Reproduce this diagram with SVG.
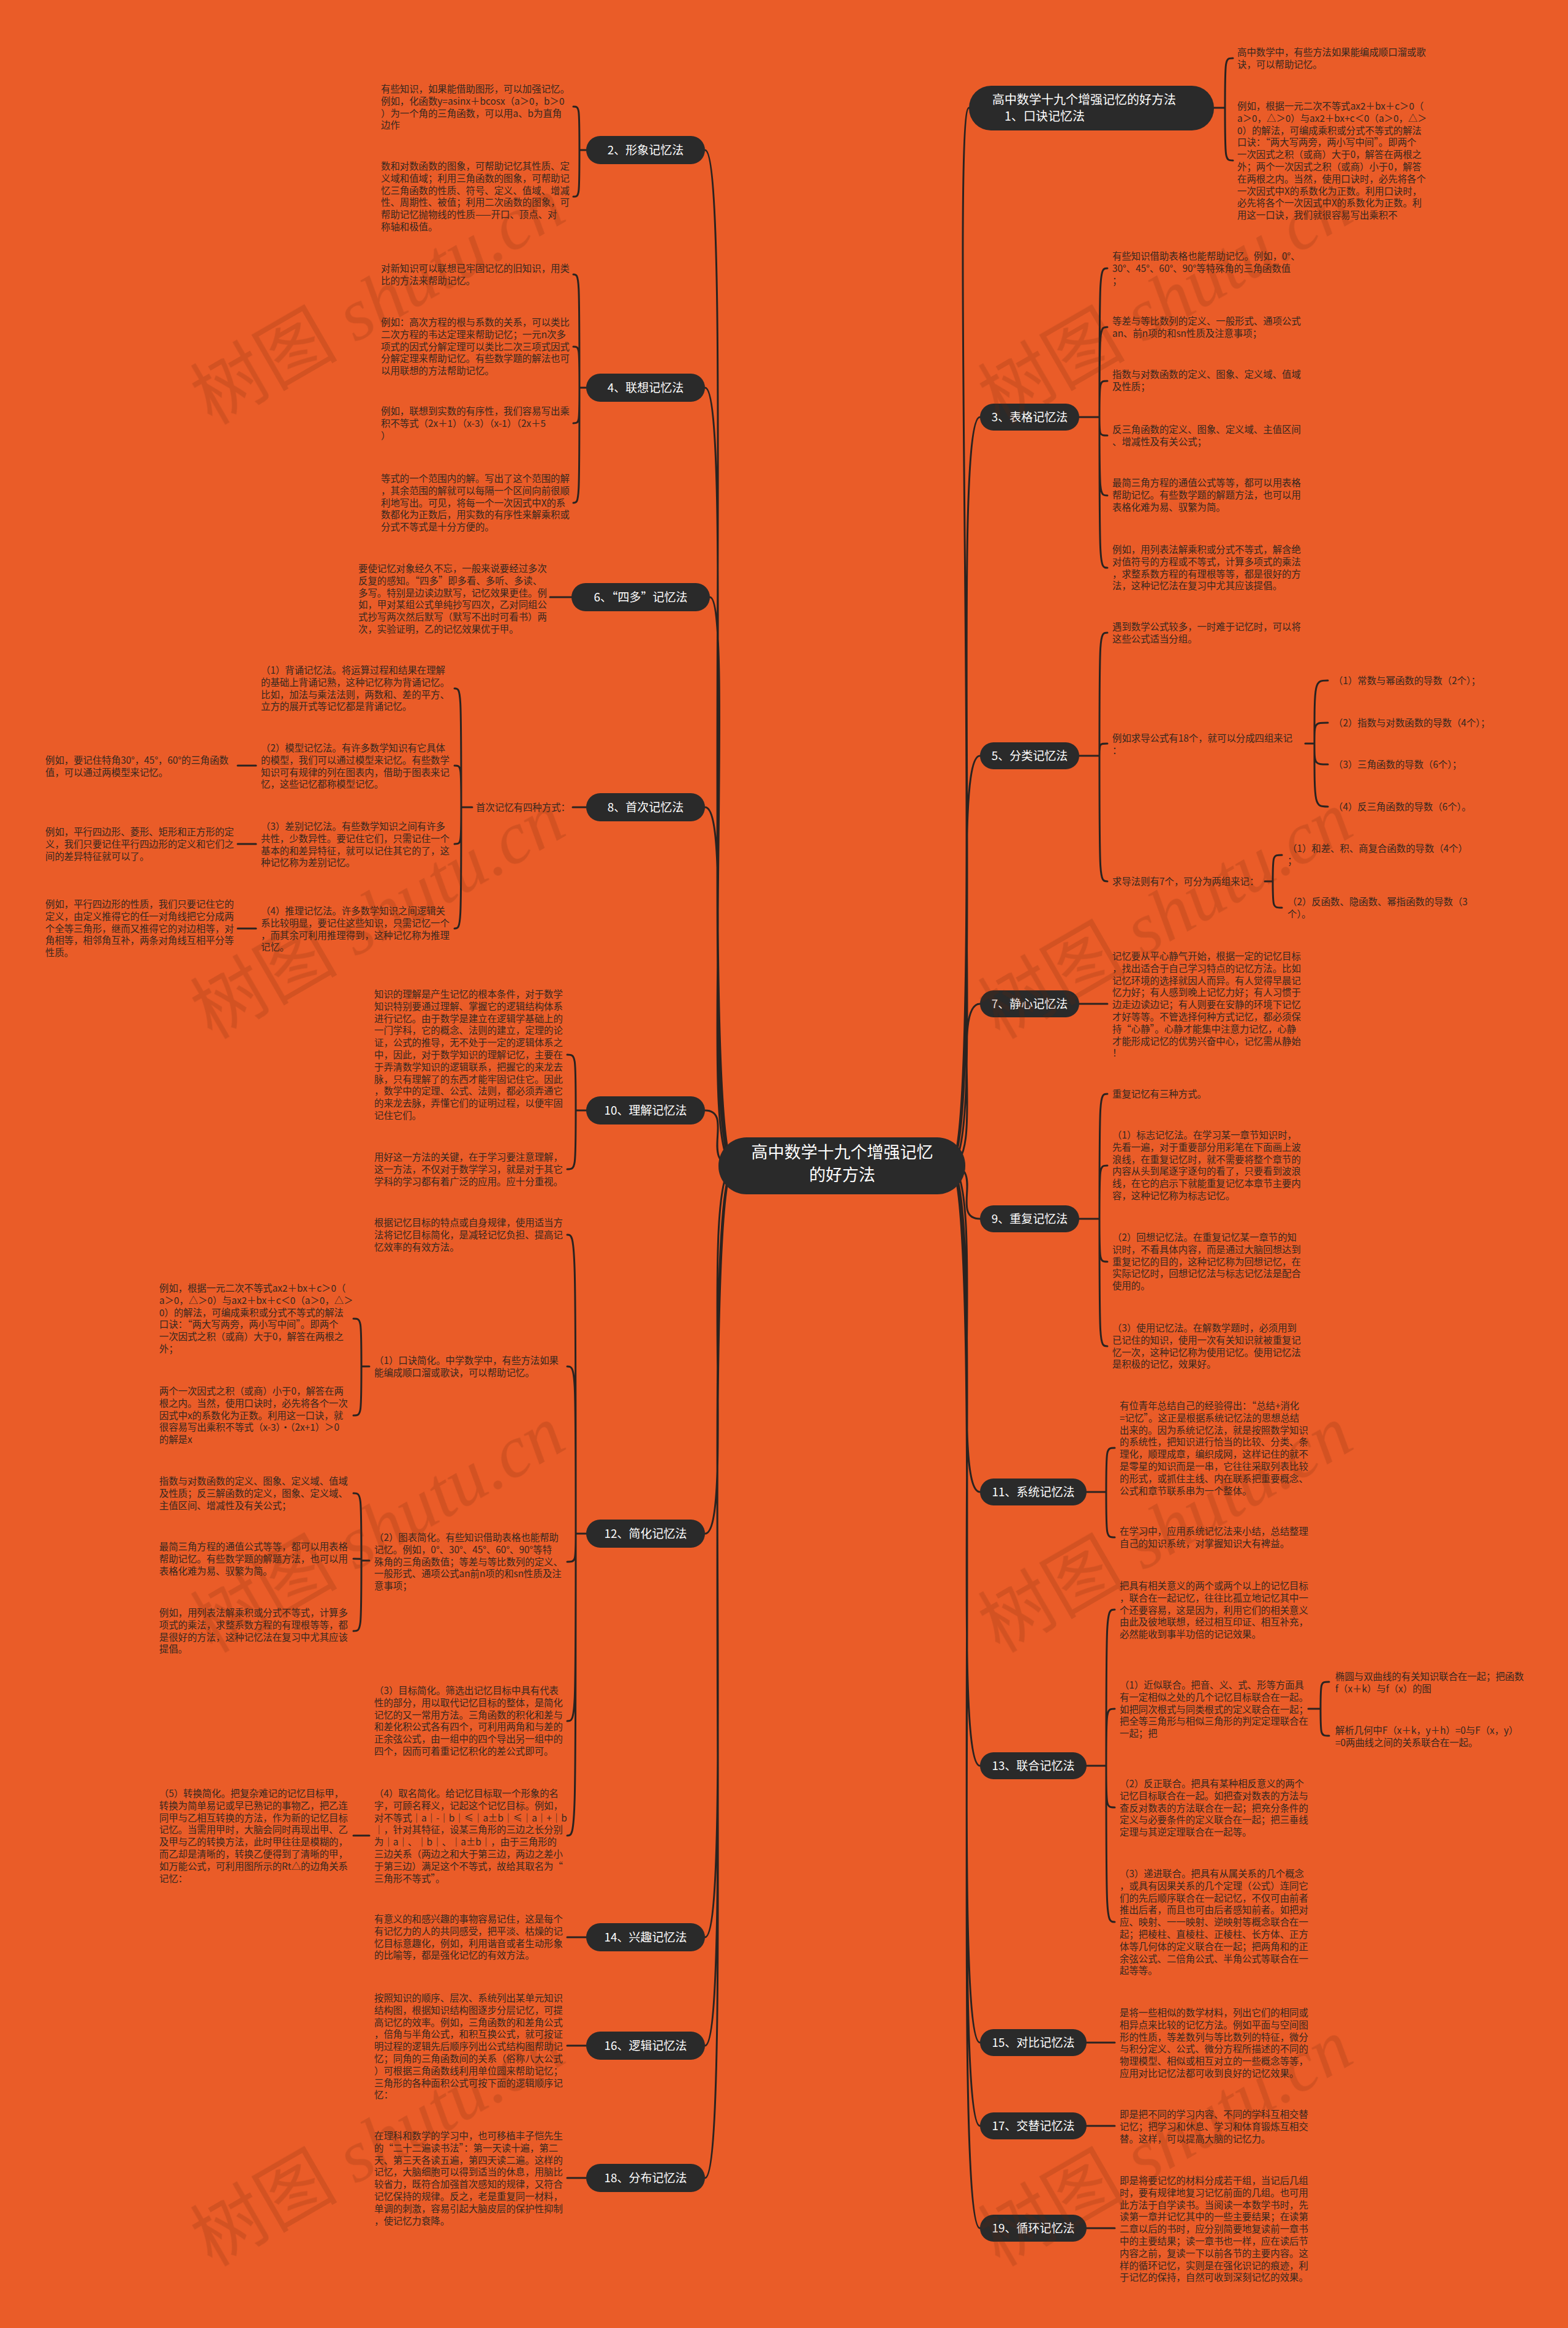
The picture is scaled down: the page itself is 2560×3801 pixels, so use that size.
<svg xmlns="http://www.w3.org/2000/svg" width="2560" height="3801" viewBox="0 0 2560 3801">
<style>
.bg{fill:#EA5C28}
.t{font-family:"Noto Sans CJK SC","Liberation Sans",sans-serif;font-size:15.4px;fill:#35281f}
.lb{font-family:"Noto Sans CJK SC","Liberation Sans",sans-serif;font-size:19px;fill:#ffffff;text-anchor:middle}
.box{fill:#2a2a2a}
.c{fill:none;stroke:#2a2320;stroke-width:3;stroke-linecap:round}
.wm{font-size:120px;fill:#6b2a10;opacity:.18}
.wm1{font-family:"Noto Sans CJK SC",serif}
.wm2{font-family:"Liberation Serif",serif;font-style:italic}
</style>
<rect class="bg" x="0" y="0" width="2560" height="3801"/>

<g id="connectors">
<path class="c" d="M1200,1903 C1140,1903 1200,245 1151,245 M1200,1903 C1140,1903 1200,633 1151,633 M1200,1903 C1140,1903 1200,975 1159,975 M1200,1903 C1140,1903 1200,1318 1151,1318 M1200,1903 C1140,1903 1200,1813 1151,1813 M1200,1903 C1140,1903 1200,2504 1151,2504 M1200,1903 C1140,1903 1200,3163 1151,3163 M1200,1903 C1140,1903 1200,3340 1151,3340 M1200,1903 C1140,1903 1200,3556 1151,3556"/>
<path class="c" d="M1550,1903 C1610,1903 1550,176 1582,176 M1550,1903 C1610,1903 1550,681 1600,681 M1550,1903 C1610,1903 1550,1234 1600,1234 M1550,1903 C1610,1903 1550,1639 1600,1639 M1550,1903 C1610,1903 1550,1990 1600,1990 M1550,1903 C1610,1903 1550,2436 1600,2436 M1550,1903 C1610,1903 1550,2883 1600,2883 M1550,1903 C1610,1903 1550,3335 1600,3335 M1550,1903 C1610,1903 1550,3471 1600,3471 M1550,1903 C1610,1903 1550,3638 1600,3638"/>
<!-- right sub braces -->
<path class="c" d="M1982,176 H2000 M2000,176 C2000,95 2000,95 2013,95 M2000,176 C2000,262 2000,262 2013,262"/>
<path class="c" d="M1760,681 H1795 M1795,681 C1795,438 1795,438 1808,438 M1795,681 C1795,534 1795,534 1808,534 M1795,681 C1795,622 1795,622 1808,622 M1795,681 C1795,711 1795,711 1808,711 M1795,681 C1795,809 1795,809 1808,809 M1795,681 C1795,927 1795,927 1808,927"/>
<path class="c" d="M1760,1234 H1795 M1795,1234 C1795,1033 1795,1033 1808,1033 M1795,1234 C1795,1214 1795,1214 1808,1214 M1795,1234 C1795,1439 1795,1439 1808,1439"/>
<path class="c" d="M2131,1214 H2146 M2146,1214 C2146,1111 2146,1111 2168,1111 M2146,1214 C2146,1180 2146,1180 2168,1180 M2146,1214 C2146,1248 2146,1248 2168,1248 M2146,1214 C2146,1317 2146,1317 2168,1317"/>
<path class="c" d="M2065,1439 H2078 M2078,1439 C2078,1396 2078,1396 2093,1396 M2078,1439 C2078,1482 2078,1482 2093,1482"/>
<path class="c" d="M1760,1639 H1808"/>
<path class="c" d="M1760,1990 H1795 M1795,1990 C1795,1786 1795,1786 1808,1786 M1795,1990 C1795,1903 1795,1903 1808,1903 M1795,1990 C1795,2060 1795,2060 1808,2060 M1795,1990 C1795,2198 1795,2198 1808,2198"/>
<path class="c" d="M1772,2436 H1806 M1806,2436 C1806,2364 1806,2364 1820,2364 M1806,2436 C1806,2510 1806,2510 1820,2510"/>
<path class="c" d="M1772,2883 H1806 M1806,2883 C1806,2628 1806,2628 1820,2628 M1806,2883 C1806,2790 1806,2790 1820,2790 M1806,2883 C1806,2951 1806,2951 1820,2951 M1806,2883 C1806,3138 1806,3138 1820,3138"/>
<path class="c" d="M2136,2790 H2156 M2156,2790 C2156,2746 2156,2746 2170,2746 M2156,2790 C2156,2834 2156,2834 2170,2834"/>
<path class="c" d="M1772,3335 H1820 M1772,3471 H1820 M1772,3638 H1820"/>
<!-- left sub braces -->
<path class="c" d="M957,245 H946 M946,245 C946,174 946,174 936,174 M946,245 C946,321 946,321 936,321"/>
<path class="c" d="M957,633 H946 M946,633 C946,448 946,448 936,448 M946,633 C946,566 946,566 936,566 M946,633 C946,691 946,691 936,691 M946,633 C946,821 946,821 936,821"/>
<path class="c" d="M933,975 H898"/>
<path class="c" d="M957,1318 H935"/>
<path class="c" d="M771,1318 H753 M753,1318 C753,1124 753,1124 742,1124 M753,1318 C753,1250 753,1250 742,1250 M753,1318 C753,1378 753,1378 742,1378 M753,1318 C753,1516 753,1516 742,1516"/>
<path class="c" d="M418,1250 H388 M418,1378 H388 M418,1516 H388"/>
<path class="c" d="M957,1813 H940 M940,1813 C940,1722 940,1722 926,1722 M940,1813 C940,1909 940,1909 926,1909"/>
<path class="c" d="M957,2504 H940 M940,2504 C940,2016 940,2016 926,2016 M940,2504 C940,2231 940,2231 926,2231 M940,2504 C940,2550 940,2550 926,2550 M940,2504 C940,2810 940,2810 926,2810 M940,2504 C940,2997 940,2997 926,2997"/>
<path class="c" d="M603,2231 H590 M590,2231 C590,2153 590,2153 577,2153 M590,2231 C590,2311 590,2311 577,2311"/>
<path class="c" d="M603,2548 H590 M590,2548 C590,2438 590,2438 577,2438 M590,2548 C590,2545 590,2545 577,2545 M590,2548 C590,2663 590,2663 577,2663"/>
<path class="c" d="M603,2997 H577"/>
<path class="c" d="M957,3163 H926 M957,3340 H926 M957,3556 H926"/>
</g>

<g id="center">
<rect class="box" x="1173" y="1857" width="403" height="93" rx="46"/>
<text class="lb" style="font-size:27px"><tspan x="1375" y="1891">高中数学十九个增强记忆</tspan><tspan x="1375" y="1928">的好方法</tspan></text>
</g>

<!-- right main nodes -->
<g id="n1">
<rect class="box" x="1582" y="140" width="400" height="73" rx="36"/>
<text class="lb" style="text-anchor:start;font-size:20px"><tspan x="1620" y="170">高中数学十九个增强记忆的好方法</tspan><tspan x="1640" y="197">1、口诀记忆法</tspan></text>
</g>
<g id="n3"><rect class="box" x="1600" y="659" width="162" height="44" rx="22"/><text class="lb" x="1681" y="688">3、表格记忆法</text></g>
<g id="n5"><rect class="box" x="1600" y="1212" width="162" height="44" rx="22"/><text class="lb" x="1681" y="1241">5、分类记忆法</text></g>
<g id="n7"><rect class="box" x="1600" y="1617" width="162" height="44" rx="22"/><text class="lb" x="1681" y="1646">7、静心记忆法</text></g>
<g id="n9"><rect class="box" x="1600" y="1968" width="162" height="44" rx="22"/><text class="lb" x="1681" y="1997">9、重复记忆法</text></g>
<g id="n11"><rect class="box" x="1600" y="2414" width="174" height="44" rx="22"/><text class="lb" x="1687" y="2443">11、系统记忆法</text></g>
<g id="n13"><rect class="box" x="1600" y="2861" width="174" height="44" rx="22"/><text class="lb" x="1687" y="2890">13、联合记忆法</text></g>
<g id="n15"><rect class="box" x="1600" y="3313" width="174" height="44" rx="22"/><text class="lb" x="1687" y="3342">15、对比记忆法</text></g>
<g id="n17"><rect class="box" x="1600" y="3449" width="174" height="44" rx="22"/><text class="lb" x="1687" y="3478">17、交替记忆法</text></g>
<g id="n19"><rect class="box" x="1600" y="3616" width="174" height="44" rx="22"/><text class="lb" x="1687" y="3645">19、循环记忆法</text></g>

<!-- left main nodes -->
<g id="n2"><rect class="box" x="957" y="222" width="194" height="46" rx="23"/><text class="lb" x="1054" y="252">2、形象记忆法</text></g>
<g id="n4"><rect class="box" x="957" y="610" width="194" height="46" rx="23"/><text class="lb" x="1054" y="640">4、联想记忆法</text></g>
<g id="n6"><rect class="box" x="933" y="952" width="226" height="46" rx="23"/><text class="lb" x="1046" y="982">6、“四多”记忆法</text></g>
<g id="n8"><rect class="box" x="957" y="1295" width="194" height="46" rx="23"/><text class="lb" x="1054" y="1325">8、首次记忆法</text></g>
<g id="n10"><rect class="box" x="957" y="1790" width="194" height="46" rx="23"/><text class="lb" x="1054" y="1820">10、理解记忆法</text></g>
<g id="n12"><rect class="box" x="957" y="2481" width="194" height="46" rx="23"/><text class="lb" x="1054" y="2511">12、简化记忆法</text></g>
<g id="n14"><rect class="box" x="957" y="3140" width="194" height="46" rx="23"/><text class="lb" x="1054" y="3170">14、兴趣记忆法</text></g>
<g id="n16"><rect class="box" x="957" y="3317" width="194" height="46" rx="23"/><text class="lb" x="1054" y="3347">16、逻辑记忆法</text></g>
<g id="n18"><rect class="box" x="957" y="3533" width="194" height="46" rx="23"/><text class="lb" x="1054" y="3563">18、分布记忆法</text></g>

<!-- right texts -->
<g id="n1a"><text class="t"><tspan x="2020" y="91">高中数学中，有些方法如果能编成顺口溜或歌</tspan><tspan x="2020" y="110.8">诀，可以帮助记忆。</tspan></text></g>
<g id="n1b"><text class="t"><tspan x="2020" y="179">例如，根据一元二次不等式ax2＋bx＋c＞0（</tspan><tspan x="2020" y="198.8">a＞0，△＞0）与ax2＋bx+c＜0（a＞0，△＞</tspan><tspan x="2020" y="218.6">0）的解法，可编成乘积或分式不等式的解法</tspan><tspan x="2020" y="238.4">口诀：“两大写两旁，两小写中间”。即两个</tspan><tspan x="2020" y="258.2">一次因式之积（或商）大于0，解答在两根之</tspan><tspan x="2020" y="278">外；两个一次因式之积（或商）小于0，解答</tspan><tspan x="2020" y="297.8">在两根之内。当然，使用口诀时，必先将各个</tspan><tspan x="2020" y="317.6">一次因式中X的系数化为正数。利用口诀时，</tspan><tspan x="2020" y="337.4">必先将各个一次因式中X的系数化为正数。利</tspan><tspan x="2020" y="357.2">用这一口诀，我们就很容易写出乘积不</tspan></text></g>

<g id="n3a"><text class="t"><tspan x="1816" y="424">有些知识借助表格也能帮助记忆。例如，0°、</tspan><tspan x="1816" y="443.8">30°、45°、60°、90°等特殊角的三角函数值</tspan><tspan x="1816" y="463.6">；</tspan></text></g>
<g id="n3b"><text class="t"><tspan x="1816" y="530">等差与等比数列的定义、一般形式、通项公式</tspan><tspan x="1816" y="549.8">an、前n项的和sn性质及注意事项；</tspan></text></g>
<g id="n3c"><text class="t"><tspan x="1816" y="617">指数与对数函数的定义、图象、定义域、值域</tspan><tspan x="1816" y="636.8">及性质；</tspan></text></g>
<g id="n3d"><text class="t"><tspan x="1816" y="707">反三角函数的定义、图象、定义域、主值区间</tspan><tspan x="1816" y="726.8">、增减性及有关公式；</tspan></text></g>
<g id="n3e"><text class="t"><tspan x="1816" y="794">最简三角方程的通值公式等等，都可以用表格</tspan><tspan x="1816" y="813.8">帮助记忆。有些数学题的解题方法，也可以用</tspan><tspan x="1816" y="833.6">表格化难为易、驭繁为简。</tspan></text></g>
<g id="n3f"><text class="t"><tspan x="1816" y="903">例如，用列表法解乘积或分式不等式，解含绝</tspan><tspan x="1816" y="922.8">对值符号的方程或不等式，计算多项式的乘法</tspan><tspan x="1816" y="942.6">，求整系数方程的有理根等等，都是很好的方</tspan><tspan x="1816" y="962.4">法，这种记忆法在复习中尤其应该提倡。</tspan></text></g>

<g id="n5a"><text class="t"><tspan x="1816" y="1029">遇到数学公式较多，一时难于记忆时，可以将</tspan><tspan x="1816" y="1048.8">这些公式适当分组。</tspan></text></g>
<g id="n5b"><text class="t"><tspan x="1816" y="1211">例如求导公式有18个，就可以分成四组来记</tspan><tspan x="1816" y="1230.8">：</tspan></text></g>
<g id="n5b1"><text class="t" x="2177" y="1117">（1）常数与幂函数的导数（2个）；</text></g>
<g id="n5b2"><text class="t" x="2177" y="1186">（2）指数与对数函数的导数（4个）；</text></g>
<g id="n5b3"><text class="t" x="2177" y="1254">（3）三角函数的导数（6个）；</text></g>
<g id="n5b4"><text class="t" x="2177" y="1323">（4）反三角函数的导数（6个）。</text></g>
<g id="n5c"><text class="t" x="1816" y="1445">求导法则有7个，可分为两组来记：</text></g>
<g id="n5c1"><text class="t"><tspan x="2102" y="1391">（1）和差、积、商复合函数的导数（4个）</tspan><tspan x="2102" y="1410.8">；</tspan></text></g>
<g id="n5c2"><text class="t"><tspan x="2102" y="1478">（2）反函数、隐函数、幂指函数的导数（3</tspan><tspan x="2102" y="1497.8">个）。</tspan></text></g>

<g id="n7a"><text class="t"><tspan x="1816" y="1567">记忆要从平心静气开始，根据一定的记忆目标</tspan><tspan x="1816" y="1586.8">，找出适合于自己学习特点的记忆方法。比如</tspan><tspan x="1816" y="1606.6">记忆环境的选择就因人而异。有人觉得早晨记</tspan><tspan x="1816" y="1626.4">忆力好；有人感到晚上记忆力好；有人习惯于</tspan><tspan x="1816" y="1646.2">边走边读边记；有人则要在安静的环境下记忆</tspan><tspan x="1816" y="1666">才好等等。不管选择何种方式记忆，都必须保</tspan><tspan x="1816" y="1685.8">持“心静”。心静才能集中注意力记忆，心静</tspan><tspan x="1816" y="1705.6">才能形成记忆的优势兴奋中心，记忆需从静始</tspan><tspan x="1816" y="1725.4">！</tspan></text></g>

<g id="n9a"><text class="t" x="1816" y="1792">重复记忆有三种方式。</text></g>
<g id="n9b"><text class="t"><tspan x="1816" y="1859">（1）标志记忆法。在学习某一章节知识时，</tspan><tspan x="1816" y="1878.8">先看一遍，对于重要部分用彩笔在下面画上波</tspan><tspan x="1816" y="1898.6">浪线，在重复记忆时，就不需要将整个章节的</tspan><tspan x="1816" y="1918.4">内容从头到尾逐字逐句的看了，只要看到波浪</tspan><tspan x="1816" y="1938.2">线，在它的启示下就能重复记忆本章节主要内</tspan><tspan x="1816" y="1958">容，这种记忆称为标志记忆。</tspan></text></g>
<g id="n9c"><text class="t"><tspan x="1816" y="2026">（2）回想记忆法。在重复记忆某一章节的知</tspan><tspan x="1816" y="2045.8">识时，不看具体内容，而是通过大脑回想达到</tspan><tspan x="1816" y="2065.6">重复记忆的目的，这种记忆称为回想记忆，在</tspan><tspan x="1816" y="2085.4">实际记忆时，回想记忆法与标志记忆法是配合</tspan><tspan x="1816" y="2105.2">使用的。</tspan></text></g>
<g id="n9d"><text class="t"><tspan x="1816" y="2174">（3）使用记忆法。在解数学题时，必须用到</tspan><tspan x="1816" y="2193.8">已记住的知识，使用一次有关知识就被重复记</tspan><tspan x="1816" y="2213.6">忆一次，这种记忆称为使用记忆。使用记忆法</tspan><tspan x="1816" y="2233.4">是积极的记忆，效果好。</tspan></text></g>

<g id="n11a"><text class="t"><tspan x="1828" y="2301">有位青年总结自己的经验得出：“总结+消化</tspan><tspan x="1828" y="2320.8">=记忆”。这正是根据系统记忆法的思想总结</tspan><tspan x="1828" y="2340.6">出来的。因为系统记忆法，就是按照数学知识</tspan><tspan x="1828" y="2360.4">的系统性，把知识进行恰当的比较、分类、条</tspan><tspan x="1828" y="2380.2">理化，顺理成章，编织成网，这样记住的就不</tspan><tspan x="1828" y="2400">是零星的知识而是一串，它往往采取列表比较</tspan><tspan x="1828" y="2419.8">的形式，或抓住主线、内在联系把重要概念、</tspan><tspan x="1828" y="2439.6">公式和章节联系串为一个整体。</tspan></text></g>
<g id="n11b"><text class="t"><tspan x="1828" y="2506">在学习中，应用系统记忆法来小结，总结整理</tspan><tspan x="1828" y="2525.8">自己的知识系统，对掌握知识大有裨益。</tspan></text></g>

<g id="n13a"><text class="t"><tspan x="1828" y="2595">把具有相关意义的两个或两个以上的记忆目标</tspan><tspan x="1828" y="2614.8">，联合在一起记忆，往往比孤立地记忆其中一</tspan><tspan x="1828" y="2634.6">个还要容易，这是因为，利用它们的相关意义</tspan><tspan x="1828" y="2654.4">由此及彼地联想，经过相互印证、相互补充，</tspan><tspan x="1828" y="2674.2">必然能收到事半功倍的记记效果。</tspan></text></g>
<g id="n13b"><text class="t"><tspan x="1828" y="2757">（1）近似联合。把音、义、式、形等方面具</tspan><tspan x="1828" y="2776.8">有一定相似之处的几个记忆目标联合在一起。</tspan><tspan x="1828" y="2796.6">如把同次根式与同类根式的定义联合在一起；</tspan><tspan x="1828" y="2816.4">把全等三角形与相似三角形的判定定理联合在</tspan><tspan x="1828" y="2836.2">一起；把</tspan></text></g>
<g id="n13b1"><text class="t"><tspan x="2180" y="2743">椭圆与双曲线的有关知识联合在一起；把函数</tspan><tspan x="2180" y="2762.8">f（x＋k）与f（x）的图</tspan></text></g>
<g id="n13b2"><text class="t"><tspan x="2180" y="2831">解析几何中F（x＋k，y＋h）=0与F（x，y）</tspan><tspan x="2180" y="2850.8">=0两曲线之间的关系联合在一起。</tspan></text></g>
<g id="n13c"><text class="t"><tspan x="1828" y="2918">（2）反正联合。把具有某种相反意义的两个</tspan><tspan x="1828" y="2937.8">记忆目标联合在一起。如把查对数表的方法与</tspan><tspan x="1828" y="2957.6">查反对数表的方法联合在一起；把充分条件的</tspan><tspan x="1828" y="2977.4">定义与必要条件的定义联合在一起；把三垂线</tspan><tspan x="1828" y="2997.2">定理与其逆定理联合在一起等。</tspan></text></g>
<g id="n13d"><text class="t"><tspan x="1828" y="3065">（3）递进联合。把具有从属关系的几个概念</tspan><tspan x="1828" y="3084.8">，或具有因果关系的几个定理（公式）连同它</tspan><tspan x="1828" y="3104.6">们的先后顺序联合在一起记忆，不仅可由前者</tspan><tspan x="1828" y="3124.4">推出后者，而且也可由后者感知前者。如把对</tspan><tspan x="1828" y="3144.2">应、映射、一一映射、逆映射等概念联合在一</tspan><tspan x="1828" y="3164">起；把棱柱、直棱柱、正棱柱、长方体、正方</tspan><tspan x="1828" y="3183.8">体等几何体的定义联合在一起；把两角和的正</tspan><tspan x="1828" y="3203.6">余弦公式、二倍角公式、半角公式等联合在一</tspan><tspan x="1828" y="3223.4">起等等。</tspan></text></g>

<g id="n15a"><text class="t"><tspan x="1828" y="3292">是将一些相似的数学材料，列出它们的相同或</tspan><tspan x="1828" y="3311.8">相异点来比较的记忆方法。例如平面与空间图</tspan><tspan x="1828" y="3331.6">形的性质，等差数列与等比数列的特征，微分</tspan><tspan x="1828" y="3351.4">与积分定义、公式、微分方程所描述的不同的</tspan><tspan x="1828" y="3371.2">物理模型、相似或相互对立的一些概念等等，</tspan><tspan x="1828" y="3391">应用对比记忆法都可收到良好的记忆效果。</tspan></text></g>
<g id="n17a"><text class="t"><tspan x="1828" y="3458">即是把不同的学习内容、不同的学科互相交替</tspan><tspan x="1828" y="3477.8">记忆；把学习和休息、学习和体育锻炼互相交</tspan><tspan x="1828" y="3497.6">替。这样，可以提高大脑的记忆力。</tspan></text></g>
<g id="n19a"><text class="t"><tspan x="1828" y="3566">即是将要记忆的材料分成若干组，当记后几组</tspan><tspan x="1828" y="3585.8">时，要有规律地复习记忆前面的几组。也可用</tspan><tspan x="1828" y="3605.6">此方法于自学读书。当阅读一本数学书时，先</tspan><tspan x="1828" y="3625.4">读第一章并记忆其中的一些主要结果；在读第</tspan><tspan x="1828" y="3645.2">二章以后的书时，应分别简要地复读前一章书</tspan><tspan x="1828" y="3665">中的主要结果；读一章书也一样，应在读后节</tspan><tspan x="1828" y="3684.8">内容之前，复读一下以前各节的主要内容。这</tspan><tspan x="1828" y="3704.6">样的循环记忆，实则是在强化识记的痕迹，利</tspan><tspan x="1828" y="3724.4">于记忆的保持，自然可收到深刻记忆的效果。</tspan></text></g>

<!-- left texts -->
<g id="n2a"><text class="t"><tspan x="622" y="151">有些知识，如果能借助图形，可以加强记忆。</tspan><tspan x="622" y="170.8">例如，化函数y=asinx＋bcosx（a＞0，b＞0</tspan><tspan x="622" y="190.6">）为一个角的三角函数，可以用a、b为直角</tspan><tspan x="622" y="210.4">边作</tspan></text></g>
<g id="n2b"><text class="t"><tspan x="622" y="277">数和对数函数的图象，可帮助记忆其性质、定</tspan><tspan x="622" y="296.8">义域和值域；利用三角函数的图象，可帮助记</tspan><tspan x="622" y="316.6">忆三角函数的性质、符号、定义、值域、增减</tspan><tspan x="622" y="336.4">性、周期性、被值；利用二次函数的图象，可</tspan><tspan x="622" y="356.2">帮助记忆抛物线的性质——开口、顶点、对</tspan><tspan x="622" y="376">称轴和极值。</tspan></text></g>
<g id="n4a"><text class="t"><tspan x="622" y="444">对新知识可以联想已牢固记忆的旧知识，用类</tspan><tspan x="622" y="463.8">比的方法来帮助记忆。</tspan></text></g>
<g id="n4b"><text class="t"><tspan x="622" y="532">例如：高次方程的根与系数的关系，可以类比</tspan><tspan x="622" y="551.8">二次方程的韦达定理来帮助记忆；一元n次多</tspan><tspan x="622" y="571.6">项式的因式分解定理可以类比二次三项式因式</tspan><tspan x="622" y="591.4">分解定理来帮助记忆。有些数学题的解法也可</tspan><tspan x="622" y="611.2">以用联想的方法帮助记忆。</tspan></text></g>
<g id="n4c"><text class="t"><tspan x="622" y="677">例如，联想到实数的有序性，我们容易写出乘</tspan><tspan x="622" y="696.8">积不等式（2x＋1）（x-3）（x-1）（2x＋5</tspan><tspan x="622" y="716.6">）</tspan></text></g>
<g id="n4d"><text class="t"><tspan x="622" y="787">等式的一个范围内的解。写出了这个范围的解</tspan><tspan x="622" y="806.8">，其余范围的解就可以每隔一个区间向前很顺</tspan><tspan x="622" y="826.6">利地写出。可见，将每一个一次因式中X的系</tspan><tspan x="622" y="846.4">数都化为正数后，用实数的有序性来解乘积或</tspan><tspan x="622" y="866.2">分式不等式是十分方便的。</tspan></text></g>
<g id="n6a"><text class="t"><tspan x="585" y="934">要使记忆对象经久不忘，一般来说要经过多次</tspan><tspan x="585" y="953.8">反复的感知。“四多”即多看、多听、多读、</tspan><tspan x="585" y="973.6">多写。特别是边读边默写，记忆效果更佳。例</tspan><tspan x="585" y="993.4">如，甲对某组公式单纯抄写四次，乙对同组公</tspan><tspan x="585" y="1013.2">式抄写两次然后默写（默写不出时可看书）两</tspan><tspan x="585" y="1033">次，实验证明，乙的记忆效果优于甲。</tspan></text></g>

<g id="n8a"><text class="t" x="777" y="1324">首次记忆有四种方式：</text></g>
<g id="n8a1"><text class="t"><tspan x="426" y="1100">（1）背诵记忆法。将运算过程和结果在理解</tspan><tspan x="426" y="1119.8">的基础上背诵记熟，这种记忆称为背诵记忆。</tspan><tspan x="426" y="1139.6">比如，加法与乘法法则，两数和、差的平方、</tspan><tspan x="426" y="1159.4">立方的展开式等记忆都是背诵记忆。</tspan></text></g>
<g id="n8a2"><text class="t"><tspan x="426" y="1227">（2）模型记忆法。有许多数学知识有它具体</tspan><tspan x="426" y="1246.8">的模型，我们可以通过模型来记忆。有些数学</tspan><tspan x="426" y="1266.6">知识可有规律的列在图表内，借助于图表来记</tspan><tspan x="426" y="1286.4">忆，这些记忆都称模型记忆。</tspan></text></g>
<g id="n8a2a"><text class="t"><tspan x="74" y="1247">例如，要记住特角30°，45°，60°的三角函数</tspan><tspan x="74" y="1266.8">值，可以通过两模型来记忆。</tspan></text></g>
<g id="n8a3"><text class="t"><tspan x="426" y="1355">（3）差别记忆法。有些数学知识之间有许多</tspan><tspan x="426" y="1374.8">共性，少数异性。要记住它们，只需记住一个</tspan><tspan x="426" y="1394.6">基本的和差异特征，就可以记住其它的了，这</tspan><tspan x="426" y="1414.4">种记忆称为差别记忆。</tspan></text></g>
<g id="n8a3a"><text class="t"><tspan x="74" y="1364">例如，平行四边形、菱形、矩形和正方形的定</tspan><tspan x="74" y="1383.8">义，我们只要记住平行四边形的定义和它们之</tspan><tspan x="74" y="1403.6">间的差异特征就可以了。</tspan></text></g>
<g id="n8a4"><text class="t"><tspan x="426" y="1493">（4）推理记忆法。许多数学知识之间逻辑关</tspan><tspan x="426" y="1512.8">系比较明显，要记住这些知识，只需记忆一个</tspan><tspan x="426" y="1532.6">，而其余可利用推理得到，这种记忆称为推理</tspan><tspan x="426" y="1552.4">记忆。</tspan></text></g>
<g id="n8a4a"><text class="t"><tspan x="74" y="1482">例如，平行四边形的性质，我们只要记住它的</tspan><tspan x="74" y="1501.8">定义，由定义推得它的任一对角线把它分成两</tspan><tspan x="74" y="1521.6">个全等三角形，继而又推得它的对边相等，对</tspan><tspan x="74" y="1541.4">角相等，相邻角互补，两条对角线互相平分等</tspan><tspan x="74" y="1561.2">性质。</tspan></text></g>

<g id="n10a"><text class="t"><tspan x="611" y="1629">知识的理解是产生记忆的根本条件，对于数学</tspan><tspan x="611" y="1648.8">知识特别要通过理解、掌握它的逻辑结构体系</tspan><tspan x="611" y="1668.6">进行记忆。由于数学是建立在逻辑学基础上的</tspan><tspan x="611" y="1688.4">一门学科，它的概念、法则的建立，定理的论</tspan><tspan x="611" y="1708.2">证，公式的推导，无不处于一定的逻辑体系之</tspan><tspan x="611" y="1728">中，因此，对于数学知识的理解记忆，主要在</tspan><tspan x="611" y="1747.8">于弄清数学知识的逻辑联系，把握它的来龙去</tspan><tspan x="611" y="1767.6">脉，只有理解了的东西才能牢固记住它。因此</tspan><tspan x="611" y="1787.4">，数学中的定理、公式、法则，都必须弄通它</tspan><tspan x="611" y="1807.2">的来龙去脉，弄懂它们的证明过程，以便牢固</tspan><tspan x="611" y="1827">记住它们。</tspan></text></g>
<g id="n10b"><text class="t"><tspan x="611" y="1895">用好这一方法的关键，在于学习要注意理解，</tspan><tspan x="611" y="1914.8">这一方法，不仅对于数学学习，就是对于其它</tspan><tspan x="611" y="1934.6">学科的学习都有着广泛的应用。应十分重视。</tspan></text></g>

<g id="n12a"><text class="t"><tspan x="611" y="2002">根据记忆目标的特点或自身规律，使用适当方</tspan><tspan x="611" y="2021.8">法将记忆目标简化，是减轻记忆负担、提高记</tspan><tspan x="611" y="2041.6">忆效率的有效方法。</tspan></text></g>
<g id="n12b"><text class="t"><tspan x="611" y="2227">（1）口诀简化。中学数学中，有些方法如果</tspan><tspan x="611" y="2246.8">能编成顺口溜或歌诀，可以帮助记忆。</tspan></text></g>
<g id="n12b1"><text class="t"><tspan x="260" y="2109">例如，根据一元二次不等式ax2＋bx＋c＞0（</tspan><tspan x="260" y="2128.8">a＞0，△＞0）与ax2＋bx＋c＜0（a＞0，△＞</tspan><tspan x="260" y="2148.6">0）的解法，可编成乘积或分式不等式的解法</tspan><tspan x="260" y="2168.4">口诀：“两大写两旁，两小写中间”。即两个</tspan><tspan x="260" y="2188.2">一次因式之积（或商）大于0，解答在两根之</tspan><tspan x="260" y="2208">外；</tspan></text></g>
<g id="n12b2"><text class="t"><tspan x="260" y="2277">两个一次因式之积（或商）小于0，解答在两</tspan><tspan x="260" y="2296.8">根之内。当然，使用口诀时，必先将各个一次</tspan><tspan x="260" y="2316.6">因式中x的系数化为正数。利用这一口诀，就</tspan><tspan x="260" y="2336.4">很容易写出乘积不等式（x-3）·（2x+1）＞0</tspan><tspan x="260" y="2356.2">的解是x</tspan></text></g>
<g id="n12c"><text class="t"><tspan x="611" y="2516">（2）图表简化。有些知识借助表格也能帮助</tspan><tspan x="611" y="2535.8">记忆。例如，0°、30°、45°、60°、90°等特</tspan><tspan x="611" y="2555.6">殊角的三角函数值；等差与等比数列的定义、</tspan><tspan x="611" y="2575.4">一般形式、通项公式an前n项的和sn性质及注</tspan><tspan x="611" y="2595.2">意事项；</tspan></text></g>
<g id="n12c1"><text class="t"><tspan x="260" y="2424">指数与对数函数的定义、图象、定义域、值域</tspan><tspan x="260" y="2443.8">及性质；反三解函数的定义，图象、定义域、</tspan><tspan x="260" y="2463.6">主值区间、增减性及有关公式；</tspan></text></g>
<g id="n12c2"><text class="t"><tspan x="260" y="2531">最简三角方程的通值公式等等，都可以用表格</tspan><tspan x="260" y="2550.8">帮助记忆。有些数学题的解题方法，也可以用</tspan><tspan x="260" y="2570.6">表格化难为易、驭繁为简。</tspan></text></g>
<g id="n12c3"><text class="t"><tspan x="260" y="2639">例如，用列表法解乘积或分式不等式，计算多</tspan><tspan x="260" y="2658.8">项式的乘法，求整系数方程的有理根等等，都</tspan><tspan x="260" y="2678.6">是很好的方法，这种记忆法在复习中尤其应该</tspan><tspan x="260" y="2698.4">提倡。</tspan></text></g>
<g id="n12d"><text class="t"><tspan x="611" y="2766">（3）目标简化。筛选出记忆目标中具有代表</tspan><tspan x="611" y="2785.8">性的部分，用以取代记忆目标的整体，是简化</tspan><tspan x="611" y="2805.6">记忆的又一常用方法。三角函数的积化和差与</tspan><tspan x="611" y="2825.4">和差化积公式各有四个，可利用两角和与差的</tspan><tspan x="611" y="2845.2">正余弦公式，由一组中的四个导出另一组中的</tspan><tspan x="611" y="2865">四个，因而可着重记忆积化的差公式即可。</tspan></text></g>
<g id="n12e"><text class="t"><tspan x="611" y="2934">（4）取名简化。给记忆目标取一个形象的名</tspan><tspan x="611" y="2953.8">字，可顾名释义，记起这个记忆目标。例如，</tspan><tspan x="611" y="2973.6">对不等式｜a｜-｜b｜≤｜a±b｜≤｜a｜+｜b</tspan><tspan x="611" y="2993.4">｜，针对其特征，设某三角形的三边之长分别</tspan><tspan x="611" y="3013.2">为｜a｜、｜b｜、｜a±b｜，由于三角形的</tspan><tspan x="611" y="3033">三边关系（两边之和大于第三边，两边之差小</tspan><tspan x="611" y="3052.8">于第三边）满足这个不等式，故给其取名为“</tspan><tspan x="611" y="3072.6">三角形不等式”。</tspan></text></g>
<g id="n12e1"><text class="t"><tspan x="260" y="2934">（5）转换简化。把复杂难记的记忆目标甲，</tspan><tspan x="260" y="2953.8">转换为简单易记或早已熟记的事物乙，把乙连</tspan><tspan x="260" y="2973.6">同甲与乙相互转换的方法，作为新的记忆目标</tspan><tspan x="260" y="2993.4">记忆。当需用甲时，大脑会同时再现出甲、乙</tspan><tspan x="260" y="3013.2">及甲与乙的转换方法，此时甲往往是模糊的，</tspan><tspan x="260" y="3033">而乙却是清晰的，转换乙便得到了清晰的甲，</tspan><tspan x="260" y="3052.8">如万能公式，可利用图所示的Rt△的边角关系</tspan><tspan x="260" y="3072.6">记忆：</tspan></text></g>

<g id="n14a"><text class="t"><tspan x="611" y="3139">有意义的和感兴趣的事物容易记住，这是每个</tspan><tspan x="611" y="3158.8">有记忆力的人的共同感受，把平淡、枯燥的记</tspan><tspan x="611" y="3178.6">忆目标意趣化，例如，利用谐音或者生动形象</tspan><tspan x="611" y="3198.4">的比喻等，都是强化记忆的有效方法。</tspan></text></g>
<g id="n16a"><text class="t"><tspan x="611" y="3268">按照知识的顺序、层次、系统列出某单元知识</tspan><tspan x="611" y="3287.8">结构图，根据知识结构图逐步分层记忆，可提</tspan><tspan x="611" y="3307.6">高记忆的效率。例如，三角函数的和差角公式</tspan><tspan x="611" y="3327.4">，倍角与半角公式，和积互换公式，就可按证</tspan><tspan x="611" y="3347.2">明过程的逻辑先后顺序列出公式结构图帮助记</tspan><tspan x="611" y="3367">忆；同角的三角函数间的关系（俗称八大公式</tspan><tspan x="611" y="3386.8">）可根据三角函数线利用单位圆来帮助记忆；</tspan><tspan x="611" y="3406.6">三角形的各种面积公式可按下面的逻辑顺序记</tspan><tspan x="611" y="3426.4">忆：</tspan></text></g>
<g id="n18a"><text class="t"><tspan x="611" y="3493">在理科和数学的学习中，也可移植丰子恺先生</tspan><tspan x="611" y="3512.8">的“二十二遍读书法”：第一天读十遍，第二</tspan><tspan x="611" y="3532.6">天、第三天各读五遍，第四天读二遍。这样的</tspan><tspan x="611" y="3552.4">记忆，大脑细胞可以得到适当的休息，用脑比</tspan><tspan x="611" y="3572.2">较省力，既符合加强首次感知的规律，又符合</tspan><tspan x="611" y="3592">记忆保持的规律。反之，老是重复同一材料，</tspan><tspan x="611" y="3611.8">单调的刺激，容易引起大脑皮层的保护性抑制</tspan><tspan x="611" y="3631.6">，使记忆力衰降。</tspan></text></g>

<g id="watermarks" class="wm">
<text transform="translate(346,695) rotate(-30)"><tspan class="wm1">树图</tspan><tspan class="wm2"> shutu.cn</tspan></text>
<text transform="translate(346,1698) rotate(-30)"><tspan class="wm1">树图</tspan><tspan class="wm2"> shutu.cn</tspan></text>
<text transform="translate(346,2700) rotate(-30)"><tspan class="wm1">树图</tspan><tspan class="wm2"> shutu.cn</tspan></text>
<text transform="translate(346,3702) rotate(-30)"><tspan class="wm1">树图</tspan><tspan class="wm2"> shutu.cn</tspan></text>
<text transform="translate(1632,695) rotate(-30)"><tspan class="wm1">树图</tspan><tspan class="wm2"> shutu.cn</tspan></text>
<text transform="translate(1632,1698) rotate(-30)"><tspan class="wm1">树图</tspan><tspan class="wm2"> shutu.cn</tspan></text>
<text transform="translate(1632,2700) rotate(-30)"><tspan class="wm1">树图</tspan><tspan class="wm2"> shutu.cn</tspan></text>
<text transform="translate(1632,3702) rotate(-30)"><tspan class="wm1">树图</tspan><tspan class="wm2"> shutu.cn</tspan></text>
</g>
</svg>
